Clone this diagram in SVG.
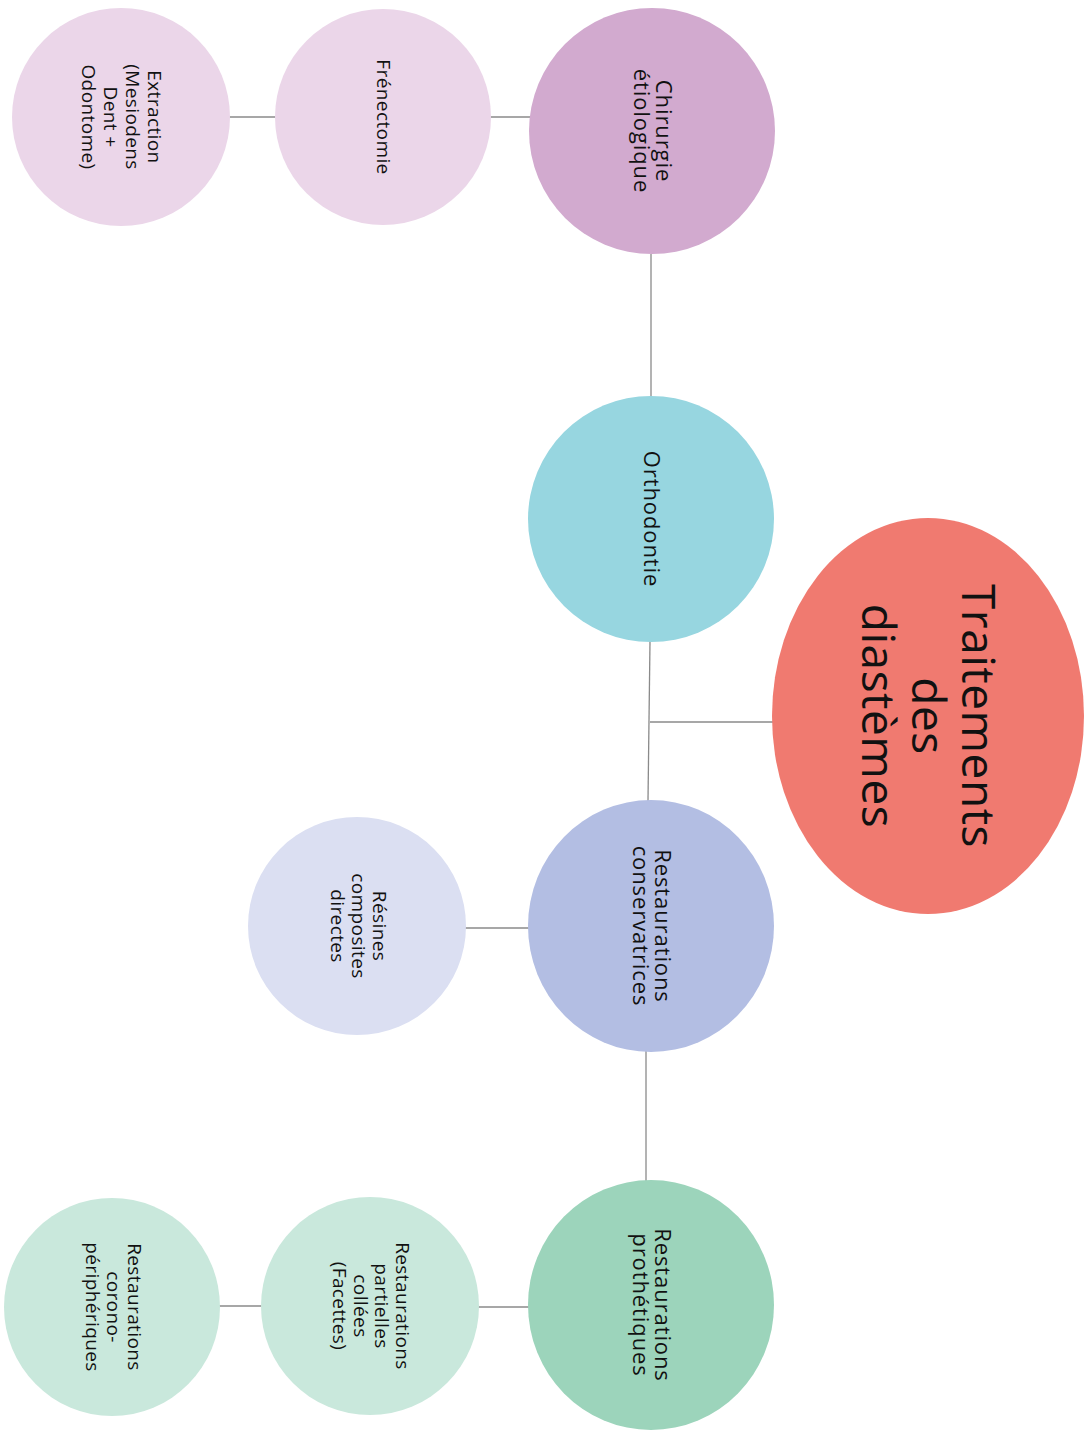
<svg xmlns="http://www.w3.org/2000/svg" width="1084" height="1430" viewBox="0 0 1084 1430">
<style>
text{font-family:"Open Sans",Lato,"Liberation Sans",sans-serif;fill:#111;text-anchor:middle}
.s{font-size:19px;letter-spacing:0.4px;font-weight:500}
.m{font-size:22px;letter-spacing:0.9px;font-weight:500}
.l{font-size:46px;letter-spacing:0.5px}
.c line{stroke:#8a8a8a;stroke-width:1.3}
</style>
<rect width="1084" height="1430" fill="#fff"/>
<g class="c" id="connectors">
<line x1="651" y1="254" x2="651" y2="398"/>
<line x1="650" y1="641" x2="648" y2="801"/>
<line x1="650" y1="722" x2="773" y2="722"/>
<line x1="646" y1="1051" x2="646" y2="1181"/>
<line x1="490" y1="117" x2="531" y2="117"/>
<line x1="229" y1="117" x2="276" y2="117"/>
<line x1="465" y1="928" x2="529" y2="928"/>
<line x1="478" y1="1307" x2="529" y2="1307"/>
<line x1="219" y1="1306" x2="262" y2="1306"/>
</g>
<g id="root">
<ellipse cx="928" cy="716" rx="156" ry="198" fill="#f07a70"/>
<text class="l" transform="rotate(90 928 716)" x="928" y="682"><tspan x="928">Traitements</tspan><tspan x="928" dy="50">des</tspan><tspan x="928" dy="50">diastèmes</tspan></text>
</g>
<g id="chirurgie">
<ellipse cx="652" cy="131" rx="123" ry="123" fill="#d2aacf"/>
<text class="m" transform="rotate(90 652 131)" x="652" y="127"><tspan x="652">Chirurgie</tspan><tspan x="652" dy="22">étiologique</tspan></text>
</g>
<g id="frenectomie">
<ellipse cx="383" cy="117" rx="108" ry="108" fill="#ebd6e9"/>
<text class="s" transform="rotate(90 383 117)" x="383" y="123">Frénectomie</text>
</g>
<g id="extraction">
<ellipse cx="121" cy="117" rx="109" ry="109" fill="#ebd6e9"/>
<text class="s" transform="rotate(90 121 117)" x="121" y="90"><tspan x="121">Extraction</tspan><tspan x="121" dy="22">(Mesiodens</tspan><tspan x="121" dy="22">Dent +</tspan><tspan x="121" dy="22">Odontome)</tspan></text>
</g>
<g id="orthodontie">
<ellipse cx="651" cy="519" rx="123" ry="123" fill="#97d6e0"/>
<text class="m" transform="rotate(90 651 519)" x="651" y="526">Orthodontie</text>
</g>
<g id="conservatrices">
<ellipse cx="651" cy="926" rx="123" ry="126" fill="#b3bee3"/>
<text class="m" transform="rotate(90 651 926)" x="651" y="922"><tspan x="651">Restaurations</tspan><tspan x="651" dy="22">conservatrices</tspan></text>
</g>
<g id="resines">
<ellipse cx="357" cy="926" rx="109" ry="109" fill="#dbdff2"/>
<text class="s" transform="rotate(90 357 926)" x="357" y="910"><tspan x="357">Résines</tspan><tspan x="357" dy="21">composites</tspan><tspan x="357" dy="21">directes</tspan></text>
</g>
<g id="prothetiques">
<ellipse cx="651" cy="1305" rx="123" ry="125" fill="#9cd4bb"/>
<text class="m" transform="rotate(90 651 1305)" x="651" y="1301"><tspan x="651">Restaurations</tspan><tspan x="651" dy="22">prothétiques</tspan></text>
</g>
<g id="partielles">
<ellipse cx="370" cy="1306" rx="109" ry="109" fill="#c9e8dc"/>
<text class="s" transform="rotate(90 370 1306)" x="370" y="1280"><tspan x="370">Restaurations</tspan><tspan x="370" dy="21">partielles</tspan><tspan x="370" dy="21">collées</tspan><tspan x="370" dy="21">(Facettes)</tspan></text>
</g>
<g id="corono">
<ellipse cx="112" cy="1307" rx="108" ry="109" fill="#c9e8dc"/>
<text class="s" transform="rotate(90 112 1307)" x="112" y="1291"><tspan x="112">Restaurations</tspan><tspan x="112" dy="21">corono-</tspan><tspan x="112" dy="21">périphériques</tspan></text>
</g>
</svg>
